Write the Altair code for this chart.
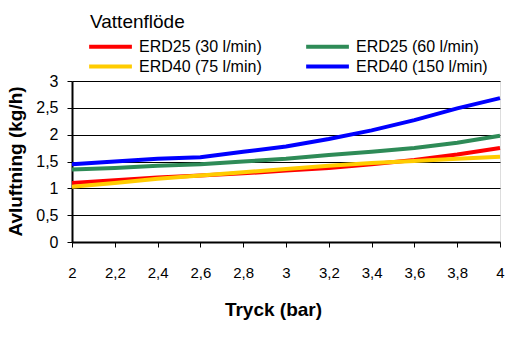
import altair as alt
import pandas as pd

pressure = [2.0, 2.2, 2.4, 2.6, 2.8, 3.0, 3.2, 3.4, 3.6, 3.8, 4.0]
series_names = ["ERD25 (30 l/min)", "ERD25 (60 l/min)", "ERD40 (75 l/min)", "ERD40 (150 l/min)"]
erd25_30 = [1.10, 1.15, 1.20, 1.24, 1.28, 1.33, 1.38, 1.45, 1.53, 1.63, 1.75]
erd25_60 = [1.35, 1.38, 1.42, 1.45, 1.50, 1.55, 1.62, 1.68, 1.75, 1.85, 1.98]
erd40_75 = [1.03, 1.10, 1.18, 1.24, 1.30, 1.36, 1.42, 1.47, 1.51, 1.55, 1.59]
erd40_150 = [1.45, 1.50, 1.55, 1.58, 1.68, 1.78, 1.92, 2.08, 2.27, 2.49, 2.68]
colors = ["#ff0000", "#2e8b57", "#ffcc00", "#0000ff"]
x_ticks = [2.0, 2.2, 2.4, 2.6, 2.8, 3.0, 3.2, 3.4, 3.6, 3.8, 4.0]
y_ticks = [0, 0.5, 1, 1.5, 2, 2.5, 3]

rows = []
for name, vals, k in zip(series_names, [erd25_30, erd25_60, erd40_75, erd40_150], range(4)):
    for p, v in zip(pressure, vals):
        rows.append({"Tryck": p, "Avluftning": v, "Serie": name, "k": k})
df = pd.DataFrame(rows)

NARROW = "Liberation Sans Narrow, Arial Narrow, Liberation Sans"
BOLD = "Liberation Sans, Arial"

chart = alt.Chart(df).mark_line(strokeWidth=4).encode(
    x=alt.X("Tryck:Q",
            scale=alt.Scale(domain=[2, 4], nice=False, zero=False),
            axis=alt.Axis(values=x_ticks, grid=False, title="Tryck (bar)",
                          labelExpr="replace(format(datum.value, '.1~f'), '.', ',')",
                          labelFont=NARROW, labelFontSize=15, labelColor="black",
                          labelPadding=18, tickSize=5, tickColor="black", tickWidth=1,
                          domainColor="black", domainWidth=2,
                          titleFont=BOLD, titleFontSize=19, titleFontWeight="bold",
                          titleColor="black", titleX=201, titleY=58, titleBaseline="top",
                          labelFlush=False, labelOverlap=False)),
    y=alt.Y("Avluftning:Q",
            scale=alt.Scale(domain=[0, 3], nice=False),
            axis=alt.Axis(values=y_ticks, grid=True, gridColor="black", gridWidth=1,
                          gridOpacity=1, title="Avluftning (kg/h)",
                          labelExpr="replace(format(datum.value, '.1~f'), '.', ',')",
                          labelFont=NARROW, labelFontSize=16, labelColor="black",
                          labelPadding=9, tickSize=5, tickColor="black", tickWidth=1,
                          domainColor="black", domainWidth=2,
                          titleFont=BOLD, titleFontSize=19, titleFontWeight="bold",
                          titleColor="black", titleX=-47, titleY=80,
                          labelOverlap=False)),
    color=alt.Color("Serie:N",
                    scale=alt.Scale(domain=series_names, range=colors),
                    legend=alt.Legend(orient="none", legendX=18, legendY=-68, columns=2,
                                      direction="horizontal",
                                      symbolType="M-1.3,0H3.2",
                                      symbolStrokeWidth=4,
                                      symbolSize=361, labelFont=NARROW, labelFontSize=16,
                                      labelColor="black", labelOffset=26,
                                      columnPadding=36, rowPadding=0,
                                      title="Vattenflöde", titleFont=BOLD,
                                      titleFontSize=19, titleFontWeight="normal",
                                      titleColor="black", titlePadding=3,
                                      labelLimit=300)),
    order=alt.Order("Tryck:Q"),
    detail="k:N",
).properties(
    width=428, height=161,
    autosize=alt.AutoSizeParams(type="none"),
    padding={"left": 72, "top": 81, "right": 12, "bottom": 110},
).configure_view(stroke="black", strokeWidth=2).configure(background="white")

chart.save("out.html", embed_options={"renderer": "svg", "actions": False})
